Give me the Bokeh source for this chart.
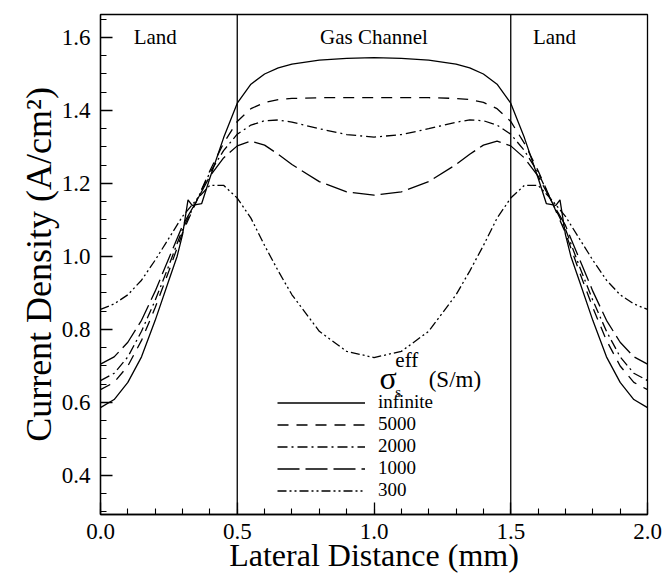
from bokeh.plotting import figure
from bokeh.models import (Legend, LegendItem, Span, Label,
                          NumeralTickFormatter, Range1d, SingleIntervalTicker)
from bokeh.embed import file_html
from bokeh.resources import INLINE

# Lateral position across land / channel / land (mm)
x_grid = [0.0, 0.05, 0.1, 0.15, 0.2, 0.25, 0.3, 0.35, 0.4, 0.45, 0.5, 0.55,
          0.6, 0.65, 0.7, 0.8, 0.9, 1.0, 1.1, 1.2, 1.3, 1.35, 1.4, 1.45, 1.5,
          1.55, 1.6, 1.65, 1.7, 1.75, 1.8, 1.85, 1.9, 1.95, 2.0]
x_inf = [0.0, 0.05, 0.1, 0.15, 0.2, 0.25, 0.28, 0.3, 0.32, 0.335, 0.37, 0.4,
         0.45, 0.5, 0.55, 0.6, 0.65, 0.7, 0.8, 0.9, 1.0, 1.1, 1.2, 1.3, 1.35,
         1.4, 1.45, 1.5, 1.55, 1.6, 1.63, 1.665, 1.68, 1.7, 1.72, 1.75, 1.8,
         1.85, 1.9, 1.95, 2.0]

# Current density (A/cm^2) for each effective solid conductivity
cd_inf = [0.586, 0.608, 0.655, 0.725, 0.825, 0.935, 1.0, 1.06, 1.155, 1.14,
          1.145, 1.215, 1.325, 1.42, 1.472, 1.50, 1.517, 1.527, 1.538, 1.543,
          1.545, 1.543, 1.538, 1.527, 1.517, 1.50, 1.472, 1.42, 1.325, 1.215,
          1.145, 1.14, 1.155, 1.06, 1.0, 0.935, 0.825, 0.725, 0.655, 0.608,
          0.586]
cd_5000 = [0.635, 0.655, 0.70, 0.77, 0.86, 0.96, 1.065, 1.15, 1.235, 1.31,
           1.37, 1.405, 1.422, 1.43, 1.433, 1.435, 1.435, 1.435, 1.435, 1.435,
           1.433, 1.43, 1.422, 1.405, 1.37, 1.31, 1.235, 1.15, 1.065, 0.96,
           0.86, 0.77, 0.70, 0.655, 0.635]
cd_2000 = [0.66, 0.68, 0.725, 0.795, 0.88, 0.975, 1.075, 1.15, 1.23, 1.29,
           1.335, 1.36, 1.372, 1.374, 1.368, 1.35, 1.334, 1.327, 1.334, 1.35,
           1.368, 1.374, 1.372, 1.36, 1.335, 1.29, 1.23, 1.15, 1.075, 0.975,
           0.88, 0.795, 0.725, 0.68, 0.66]
cd_1000 = [0.705, 0.725, 0.765, 0.825, 0.905, 0.995, 1.085, 1.15, 1.22, 1.27,
           1.303, 1.316, 1.305, 1.28, 1.252, 1.205, 1.177, 1.168, 1.177, 1.205,
           1.252, 1.28, 1.305, 1.316, 1.303, 1.27, 1.22, 1.15, 1.085, 0.995,
           0.905, 0.825, 0.765, 0.725, 0.705]
cd_300 = [0.855, 0.87, 0.895, 0.935, 0.99, 1.05, 1.11, 1.155, 1.195, 1.195,
          1.16, 1.105, 1.03, 0.96, 0.895, 0.795, 0.74, 0.723, 0.74, 0.795,
          0.895, 0.96, 1.03, 1.105, 1.16, 1.195, 1.195, 1.155, 1.11, 1.05,
          0.99, 0.935, 0.895, 0.87, 0.855]

series_labels = ["infinite", "5000", "2000", "1000", "300"]
region_edges = [0.5, 1.5]
region_names = ["Land", "Gas Channel", "Land"]
region_centers = [0.2, 1.0, 1.66]

FONT = "Liberation Serif"

p = figure(width=669, height=580, output_backend="svg", toolbar_location=None,
           x_range=Range1d(0.0, 2.0), y_range=Range1d(0.293, 1.663),
           min_border_left=100, min_border_right=22, min_border_top=14,
           min_border_bottom=66)
p.background_fill_color = "white"
p.border_fill_color = "white"
p.grid.visible = False
p.outline_line_color = "black"
p.outline_line_width = 1.3

for ax in (p.xaxis[0], p.yaxis[0]):
    ax.axis_line_color = "black"
    ax.axis_line_width = 1.3
    ax.major_tick_in = 12
    ax.major_tick_out = 0
    ax.minor_tick_in = 6
    ax.minor_tick_out = 0
    ax.major_tick_line_width = 1.3
    ax.minor_tick_line_width = 1.1
    ax.major_tick_line_color = "black"
    ax.minor_tick_line_color = "black"
    ax.major_label_text_font = FONT
    ax.major_label_text_font_size = "23px"
    ax.major_label_text_color = "black"
    ax.axis_label_text_font = FONT
    ax.axis_label_text_font_style = "normal"
    ax.axis_label_text_color = "black"
    ax.formatter = NumeralTickFormatter(format="0.0")

p.xaxis.ticker = SingleIntervalTicker(interval=0.5, num_minor_ticks=5)
p.yaxis.ticker = SingleIntervalTicker(interval=0.2, num_minor_ticks=4)
p.xaxis.axis_label = "Lateral Distance (mm)"
p.xaxis.axis_label_text_font_size = "32px"
p.xaxis.major_label_standoff = 9
p.xaxis.axis_label_standoff = -5
p.yaxis.axis_label = "Current Density (A/cm²)"
p.yaxis.axis_label_text_font_size = "36px"
p.yaxis.major_label_standoff = 10
p.yaxis.axis_label_standoff = 0

# channel / land boundaries
for edge in region_edges:
    p.add_layout(Span(location=edge, dimension="height", line_color="black",
                      line_width=1.3))

for name, cx in zip(region_names, region_centers):
    p.add_layout(Label(x=cx, y=1.6, text=name, text_font=FONT,
                       text_font_size="21px", text_align="center",
                       text_baseline="middle", text_color="black"))

lw = 1.3
r_inf = p.line(x_inf, cd_inf, line_color="black", line_width=lw)
r_5000 = p.line(x_grid, cd_5000, line_color="black", line_width=lw,
                line_dash="11 8")
r_2000 = p.line(x_grid, cd_2000, line_color="black", line_width=lw,
                line_dash="10 4 2 4")
r_1000 = p.line(x_grid, cd_1000, line_color="black", line_width=lw,
                line_dash="22 6")
r_300 = p.line(x_grid, cd_300, line_color="black", line_width=lw,
               line_dash="9 3 2 3 2 3")

renderers = [r_inf, r_5000, r_2000, r_1000, r_300]
legend = Legend(items=[LegendItem(label=lab, renderers=[r])
                       for lab, r in zip(series_labels, renderers)],
                location=(177, 13), orientation="vertical",
                glyph_width=88, glyph_height=21, label_height=21,
                label_standoff=13, spacing=0, padding=0, margin=0,
                border_line_alpha=0, background_fill_alpha=0,
                label_text_font=FONT, label_text_font_size="19px",
                label_text_line_height=1.0,
                label_text_color="black")
p.add_layout(legend, "center")

# legend heading: sigma_s^eff (S/m)
p.add_layout(Label(x=1.02, y=0.668, text="σ", text_font=FONT,
                   text_font_size="32px", text_baseline="middle",
                   text_color="black"))
p.add_layout(Label(x=1.078, y=0.715, text="eff", text_font=FONT,
                   text_font_size="21px", text_baseline="middle",
                   text_color="black"))
p.add_layout(Label(x=1.078, y=0.628, text="s", text_font=FONT,
                   text_font_size="15px", text_baseline="middle",
                   text_color="black"))
p.add_layout(Label(x=1.2, y=0.663, text="(S/m)", text_font=FONT,
                   text_font_size="23px", text_baseline="middle",
                   text_color="black"))

open("out.html", "w").write(file_html(p, INLINE))
